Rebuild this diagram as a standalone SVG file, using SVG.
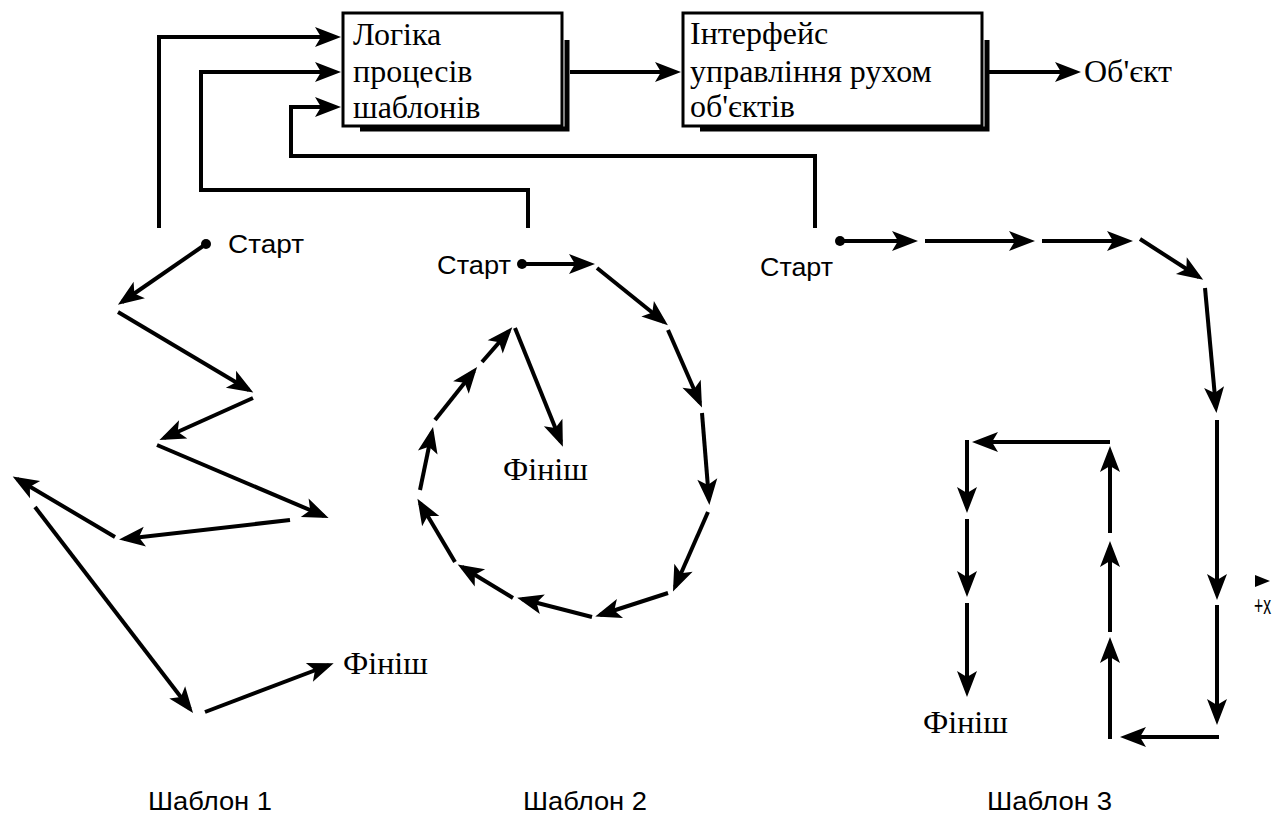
<svg xmlns="http://www.w3.org/2000/svg" width="1283" height="816" viewBox="0 0 1283 816">
  <style>
    .ln { fill: none; stroke: #000; stroke-width: 4; stroke-linecap: butt; stroke-linejoin: miter; }
    .arr { marker-end: url(#ah); }
    .box { fill: #fff; stroke: #000; stroke-width: 3; }
    .shadow { fill: none; stroke: #000; stroke-width: 5; }
    .serif { font-family: "Liberation Serif", "Times New Roman", serif; font-size: 32px; fill: #000; }
    .sans { font-family: "Liberation Sans", Arial, sans-serif; font-size: 26px; fill: #000; }
  </style>
  <defs>
    <marker id="ah" markerUnits="userSpaceOnUse" markerWidth="40" markerHeight="40" refX="0" refY="0" viewBox="-30 -15 40 30" orient="auto" overflow="visible">
      <path d="M5,0 L-21,-10 L-15,0 L-21,10 Z" fill="#000"/>
    </marker>
  </defs>
  <rect width="1283" height="816" fill="#fff"/>

  <!-- processing blocks -->
  <g id="logic-block">
    <polyline class="shadow" points="567,40 567,129 360,129"/>
    <rect class="box" x="343" y="13" width="219" height="113"/>
    <text class="serif" x="353" y="45">Логіка</text>
    <text class="serif" x="353" y="82">процесів</text>
    <text class="serif" x="353" y="118">шаблонів</text>
  </g>
  <g id="interface-block">
    <polyline class="shadow" points="987,40 987,129 700,129"/>
    <rect class="box" x="683" y="13" width="299" height="113"/>
    <text class="serif" x="690" y="44">Інтерфейс</text>
    <text class="serif" x="690" y="82">управління рухом</text>
    <text class="serif" x="690" y="117">об'єктів</text>
  </g>
  <g id="object">
    <text class="serif" x="1084" y="82">Об'єкт</text>
  </g>

  <!-- links between blocks and feedback from the patterns -->
  <g id="connectors">
    <line class="ln arr" x1="570" y1="72" x2="676" y2="72"/>
    <line class="ln arr" x1="989" y1="72" x2="1076" y2="72"/>
    <polyline class="ln arr" points="159,228 159,37 336,37"/>
    <polyline class="ln arr" points="528,228 528,190 201,190 201,72 336,72"/>
    <polyline class="ln arr" points="815,228 815,156 291,156 291,107 336,107"/>
  </g>

  <!-- pattern 1: zigzag -->
  <g id="pattern-1">
    <circle cx="206" cy="244" r="5"/>
    <text class="sans" x="228" y="253" textLength="76" lengthAdjust="spacingAndGlyphs">Старт</text>
    <line class="ln arr" x1="206" y1="244" x2="122" y2="302"/>
    <line class="ln arr" x1="118" y1="312" x2="249" y2="390"/>
    <line class="ln arr" x1="253" y1="398" x2="164" y2="438"/>
    <line class="ln arr" x1="157" y1="445" x2="324" y2="516"/>
    <line class="ln arr" x1="290" y1="520" x2="124" y2="539"/>
    <line class="ln arr" x1="115" y1="537" x2="17" y2="479"/>
    <line class="ln arr" x1="35" y1="507" x2="190" y2="709"/>
    <line class="ln arr" x1="205" y1="712" x2="329" y2="665"/>
    <text class="serif" x="343" y="674">Фініш</text>
  </g>

  <!-- pattern 2: spiral -->
  <g id="pattern-2">
    <circle cx="522" cy="264" r="5"/>
    <text class="sans" x="437" y="274" textLength="74" lengthAdjust="spacingAndGlyphs">Старт</text>
    <line class="ln arr" x1="522" y1="264" x2="590" y2="264"/>
    <line class="ln arr" x1="597" y1="268" x2="664" y2="322"/>
    <line class="ln arr" x1="668" y1="330" x2="700" y2="403"/>
    <line class="ln arr" x1="702" y1="413" x2="709" y2="500"/>
    <line class="ln arr" x1="708" y1="512" x2="675" y2="587"/>
    <line class="ln arr" x1="668" y1="593" x2="600" y2="615"/>
    <line class="ln arr" x1="592" y1="617" x2="522" y2="599"/>
    <line class="ln arr" x1="513" y1="598" x2="462" y2="567"/>
    <line class="ln arr" x1="455" y1="562" x2="420" y2="503"/>
    <line class="ln arr" x1="420" y1="490" x2="432" y2="432"/>
    <line class="ln arr" x1="435" y1="420" x2="474" y2="371"/>
    <line class="ln arr" x1="482" y1="362" x2="509" y2="331"/>
    <line class="ln arr" x1="515" y1="328" x2="561" y2="442"/>
    <text class="serif" x="503" y="480">Фініш</text>
  </g>

  <!-- pattern 3: meander -->
  <g id="pattern-3">
    <circle cx="840" cy="241" r="5"/>
    <text class="sans" x="760" y="276" textLength="73" lengthAdjust="spacingAndGlyphs">Старт</text>
    <line class="ln arr" x1="840" y1="241" x2="913" y2="241"/>
    <line class="ln arr" x1="925" y1="241" x2="1030" y2="241"/>
    <line class="ln arr" x1="1042" y1="241" x2="1128" y2="241"/>
    <line class="ln arr" x1="1140" y1="239" x2="1199" y2="277"/>
    <line class="ln arr" x1="1205" y1="288" x2="1216" y2="408"/>
    <line class="ln arr" x1="1217" y1="420" x2="1217" y2="595"/>
    <line class="ln arr" x1="1217" y1="605" x2="1217" y2="720"/>
    <line class="ln arr" x1="1219" y1="737" x2="1125" y2="737"/>
    <line class="ln arr" x1="1110" y1="739" x2="1110" y2="642"/>
    <line class="ln arr" x1="1110" y1="632" x2="1110" y2="546"/>
    <line class="ln arr" x1="1110" y1="533" x2="1110" y2="451"/>
    <line class="ln arr" x1="1110" y1="442" x2="977" y2="442"/>
    <line class="ln arr" x1="967" y1="440" x2="967" y2="508"/>
    <line class="ln arr" x1="967" y1="519" x2="967" y2="592"/>
    <line class="ln arr" x1="967" y1="603" x2="967" y2="692"/>
    <text class="serif" x="923" y="733">Фініш</text>
  </g>

  <!-- axis hint -->
  <g id="axis">
    <polygon points="1255,575 1270,581 1255,587" fill="#000"/>
    <text class="sans" x="1254" y="614" font-size="20" textLength="17" lengthAdjust="spacingAndGlyphs">+x</text>
  </g>

  <!-- captions -->
  <g id="captions">
    <text class="sans" x="148" y="810" textLength="124" lengthAdjust="spacingAndGlyphs">Шаблон 1</text>
    <text class="sans" x="523" y="810" textLength="124" lengthAdjust="spacingAndGlyphs">Шаблон 2</text>
    <text class="sans" x="987" y="810" textLength="125" lengthAdjust="spacingAndGlyphs">Шаблон 3</text>
  </g>
</svg>
